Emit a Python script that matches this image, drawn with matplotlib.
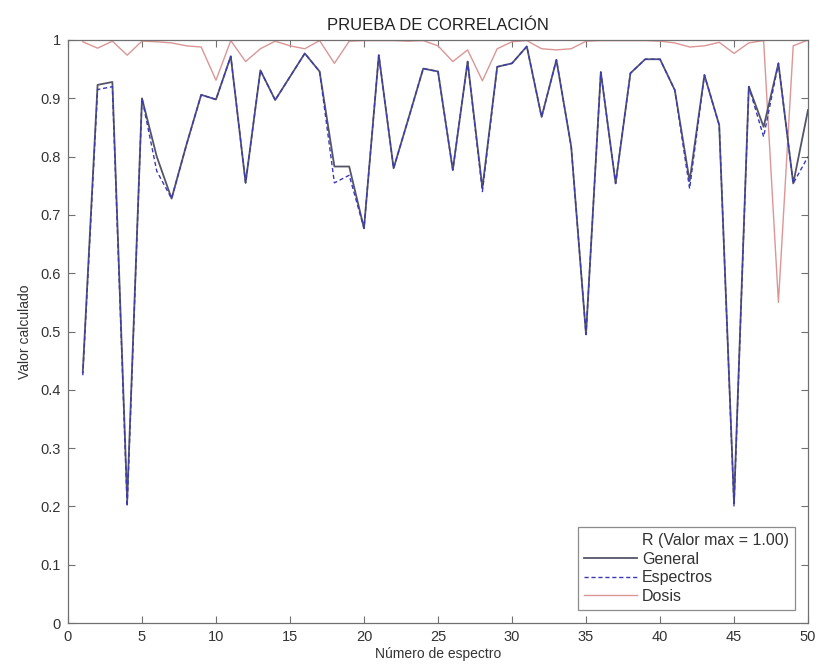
import numpy as np
import matplotlib
matplotlib.use("Agg")
import matplotlib.pyplot as plt

plt.rcParams['font.family'] = ['Liberation Sans', 'DejaVu Sans']

# spectrum numbers 1..50
espectro = np.arange(1, 51)

general = [0.43, 0.923, 0.928, 0.21, 0.90, 0.80, 0.728, 0.82, 0.906, 0.898,
           0.972, 0.755, 0.948, 0.897, 0.937, 0.977, 0.946, 0.783, 0.783, 0.677,
           0.974, 0.78, 0.865, 0.951, 0.946, 0.777, 0.963, 0.746, 0.954, 0.96,
           0.989, 0.868, 0.966, 0.817, 0.495, 0.945, 0.754, 0.943, 0.967, 0.967,
           0.914, 0.758, 0.94, 0.854, 0.206, 0.92, 0.851, 0.96, 0.754, 0.88]

espectros = [0.425, 0.915, 0.92, 0.20, 0.90, 0.775, 0.728, 0.82, 0.906, 0.898,
             0.972, 0.755, 0.948, 0.897, 0.937, 0.977, 0.946, 0.755, 0.768, 0.677,
             0.974, 0.78, 0.865, 0.951, 0.946, 0.777, 0.963, 0.74, 0.954, 0.96,
             0.989, 0.868, 0.966, 0.817, 0.495, 0.945, 0.754, 0.943, 0.967, 0.967,
             0.914, 0.745, 0.94, 0.854, 0.20, 0.92, 0.834, 0.96, 0.754, 0.80]

dosis = [0.997, 0.986, 0.998, 0.974, 0.998, 0.997, 0.995, 0.99, 0.988, 0.931,
         0.999, 0.963, 0.985, 0.998, 0.99, 0.985, 0.999, 0.96, 0.998, 0.999,
         0.999, 0.999, 0.998, 0.999, 0.99, 0.963, 0.983, 0.93, 0.985, 0.997,
         0.999, 0.985, 0.983, 0.985, 0.998, 0.999, 0.999, 0.999, 0.999, 0.998,
         0.995, 0.988, 0.99, 0.996, 0.977, 0.995, 0.999, 0.55, 0.99, 1.0]

yticks = np.arange(0, 1.01, 0.1)
ytick_labels = ['0', '0.1', '0.2', '0.3', '0.4', '0.5', '0.6', '0.7', '0.8', '0.9', '1']
xticks = np.arange(0, 51, 5)

fig = plt.figure(figsize=(8.18, 6.70), dpi=100)
ax = fig.add_axes([0.0831, 0.0701, 0.9047, 0.8702])

frame = '#707070'
txt = '#333333'

# empty handle so the legend shows the R header line
ax.plot([], [], color='white', lw=0, label='R (Valor max = 1.00)')
ax.plot(espectro, general, color='#55556a', lw=1.3, label='General', zorder=3)
ax.plot(espectro, espectros, color='#3a3ab8', lw=1.0, ls=(0, (3, 2)), label='Espectros', zorder=4)
ax.plot(espectro, dosis, color='#dc9696', lw=1.0, label='Dosis', zorder=2)

ax.set_xlim(0, 50)
ax.set_ylim(0, 1)
ax.set_xticks(xticks)
ax.set_yticks(yticks)
ax.set_yticklabels(ytick_labels)
ax.tick_params(direction='in', top=True, right=True, length=5, width=0.8,
               color=frame, labelsize=10.5, labelcolor=txt, pad=5)
for s in ax.spines.values():
    s.set_color(frame)
    s.set_linewidth(0.9)

ax.set_title('PRUEBA DE CORRELACIÓN', fontsize=12, color='#222222', pad=7)
ax.set_xlabel('Número de espectro', fontsize=10, color=txt, labelpad=2)
ax.set_ylabel('Valor calculado', fontsize=10, color=txt, labelpad=6)

leg = ax.legend(loc='lower right', fontsize=11.5, frameon=True, fancybox=False,
                handlelength=3.3, handletextpad=0.3, borderpad=0.4,
                labelspacing=0.22, borderaxespad=0.8)
leg.get_frame().set_edgecolor(frame)
leg.get_frame().set_linewidth(0.9)
for t in leg.get_texts():
    t.set_color(txt)

fig.savefig('out.png', dpi=100)
